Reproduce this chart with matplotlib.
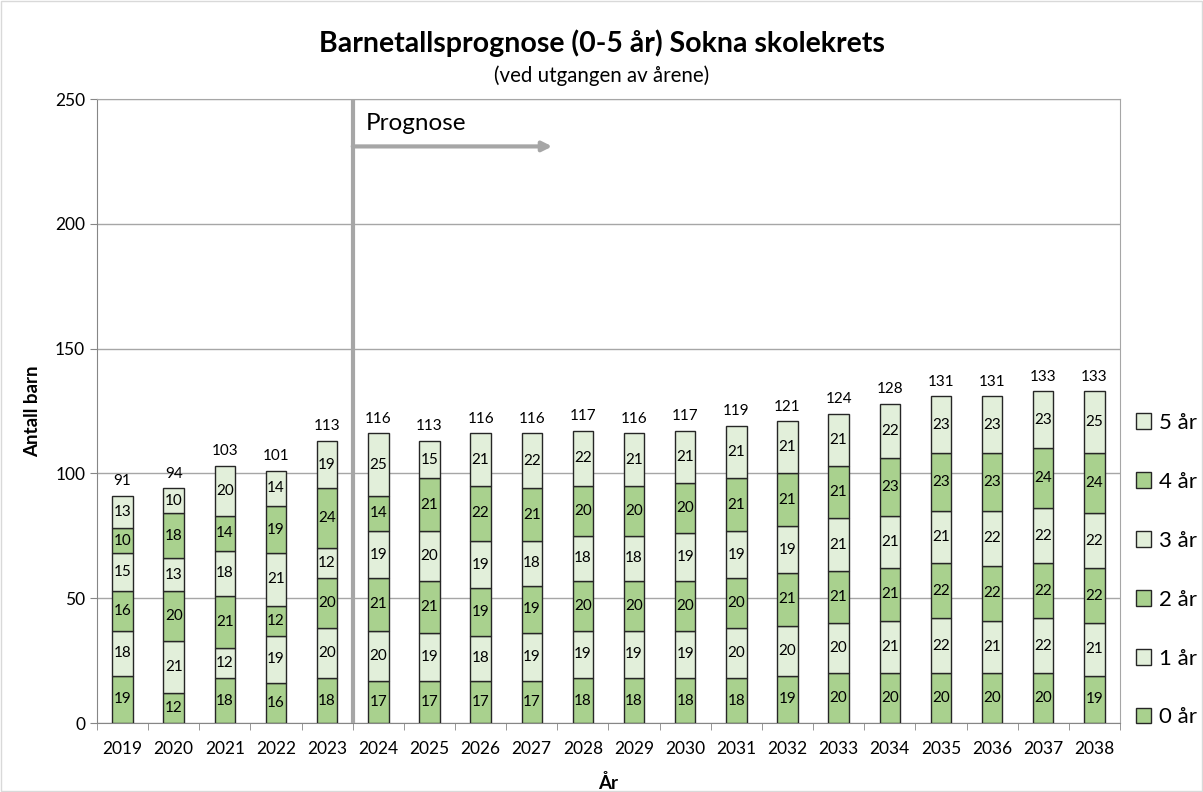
#!/bin/python3

import numpy as np
import matplotlib
matplotlib.use('Agg')
import matplotlib.pyplot as plt

plt.rcParams['font.family'] = ['Lato', 'DejaVu Sans']

################################################################################

years = [str(y) for y in range(2019, 2039)]
age_labels = ['0 år', '1 år', '2 år', '3 år', '4 år', '5 år']

age0 = [19, 12, 18, 16, 18, 17, 17, 17, 17, 18, 18, 18, 18, 19, 20, 20, 20, 20, 20, 19]
age1 = [18, 21, 12, 19, 20, 20, 19, 18, 19, 19, 19, 19, 20, 20, 20, 21, 22, 21, 22, 21]
age2 = [16, 20, 21, 12, 20, 21, 21, 19, 19, 20, 20, 20, 20, 21, 21, 21, 22, 22, 22, 22]
age3 = [15, 13, 18, 21, 12, 19, 20, 19, 18, 18, 18, 19, 19, 19, 21, 21, 21, 22, 22, 22]
age4 = [10, 18, 14, 19, 24, 14, 21, 22, 21, 20, 20, 20, 21, 21, 21, 23, 23, 23, 24, 24]
age5 = [13, 10, 20, 14, 19, 25, 15, 21, 22, 22, 21, 21, 21, 21, 21, 22, 23, 23, 23, 25]

series = [age0, age1, age2, age3, age4, age5]
colors = ['#A9D18E', '#E2EFDA'] * 3

################################################################################

fig = plt.figure(figsize=(12.03, 7.92), dpi=100)
ax = fig.add_axes([0.0806, 0.0871, 0.8504, 0.7879])

x = np.arange(len(years))
bottom = np.zeros(len(years))
handles = []
for vals, col, lab in zip(series, colors, age_labels):
    vals = np.array(vals)
    bars = ax.bar(x, vals, 0.4, bottom=bottom, color=col, edgecolor='#262626',
                  linewidth=1.0, label=lab, zorder=3)
    handles.append(bars)
    for xi, b, v in zip(x, bottom, vals):
        ax.text(xi, b + v / 2, str(v), ha='center', va='center', fontsize=11,
                color='black', zorder=4)
    bottom += vals

for xi, tot in zip(x, bottom):
    ax.text(xi, tot + 3, str(int(tot)), ha='center', va='bottom', fontsize=11)

ax.set_xlim(-0.5, len(years) - 0.5)
ax.set_ylim(0, 250)
ax.set_yticks(np.arange(0, 251, 50))
ax.set_xticks(x)
ax.set_xticklabels(years, fontsize=12.5)
ax.tick_params(axis='x', length=0, pad=13)
ax.set_xticks(np.arange(-0.5, len(years), 1), minor=True)
ax.tick_params(axis='x', which='minor', length=5, color='#868686')
ax.tick_params(axis='y', labelsize=12.5, length=5, color='#868686')
ax.yaxis.grid(True, color='#A6A6A6', linewidth=1, zorder=0)

for side in ['top', 'right']:
    ax.spines[side].set_color('#A6A6A6')
for side in ['left', 'bottom']:
    ax.spines[side].set_color('#868686')

ax.set_ylabel('Antall barn', fontsize=13.5, fontweight='bold', labelpad=10)
ax.set_xlabel('År', fontsize=13.5, fontweight='bold', labelpad=12)

# prognosis marker
ax.axvline(4.5, color='#A6A6A6', linewidth=3, zorder=5)
ax.annotate('', xy=(8.4, 231), xytext=(4.5, 231),
            arrowprops=dict(arrowstyle='-|>', color='#A6A6A6', lw=3,
                            mutation_scale=14, shrinkA=0, shrinkB=0))
ax.text(4.75, 236, 'Prognose', fontsize=17.5, va='bottom', ha='left')

fig.text(0.5, 0.945, 'Barnetallsprognose (0-5 år) Sokna skolekrets',
         ha='center', va='center', fontsize=20.5, fontweight='bold')
fig.text(0.5, 0.905, '(ved utgangen av årene)', ha='center', va='center',
         fontsize=14.8)

leg = fig.legend(handles[::-1], age_labels[::-1], loc='center left',
                 bbox_to_anchor=(0.944, 0.28), frameon=False, fontsize=16,
                 handlelength=0.7, handleheight=0.7, handletextpad=0.35,
                 labelspacing=1.75, borderpad=0, borderaxespad=0)

fig.patches.append(plt.Rectangle((0.001, 0.001), 0.998, 0.998,
                                 transform=fig.transFigure, fill=False,
                                 edgecolor='#D9D9D9', linewidth=1))

fig.savefig('out.png', dpi=100)
